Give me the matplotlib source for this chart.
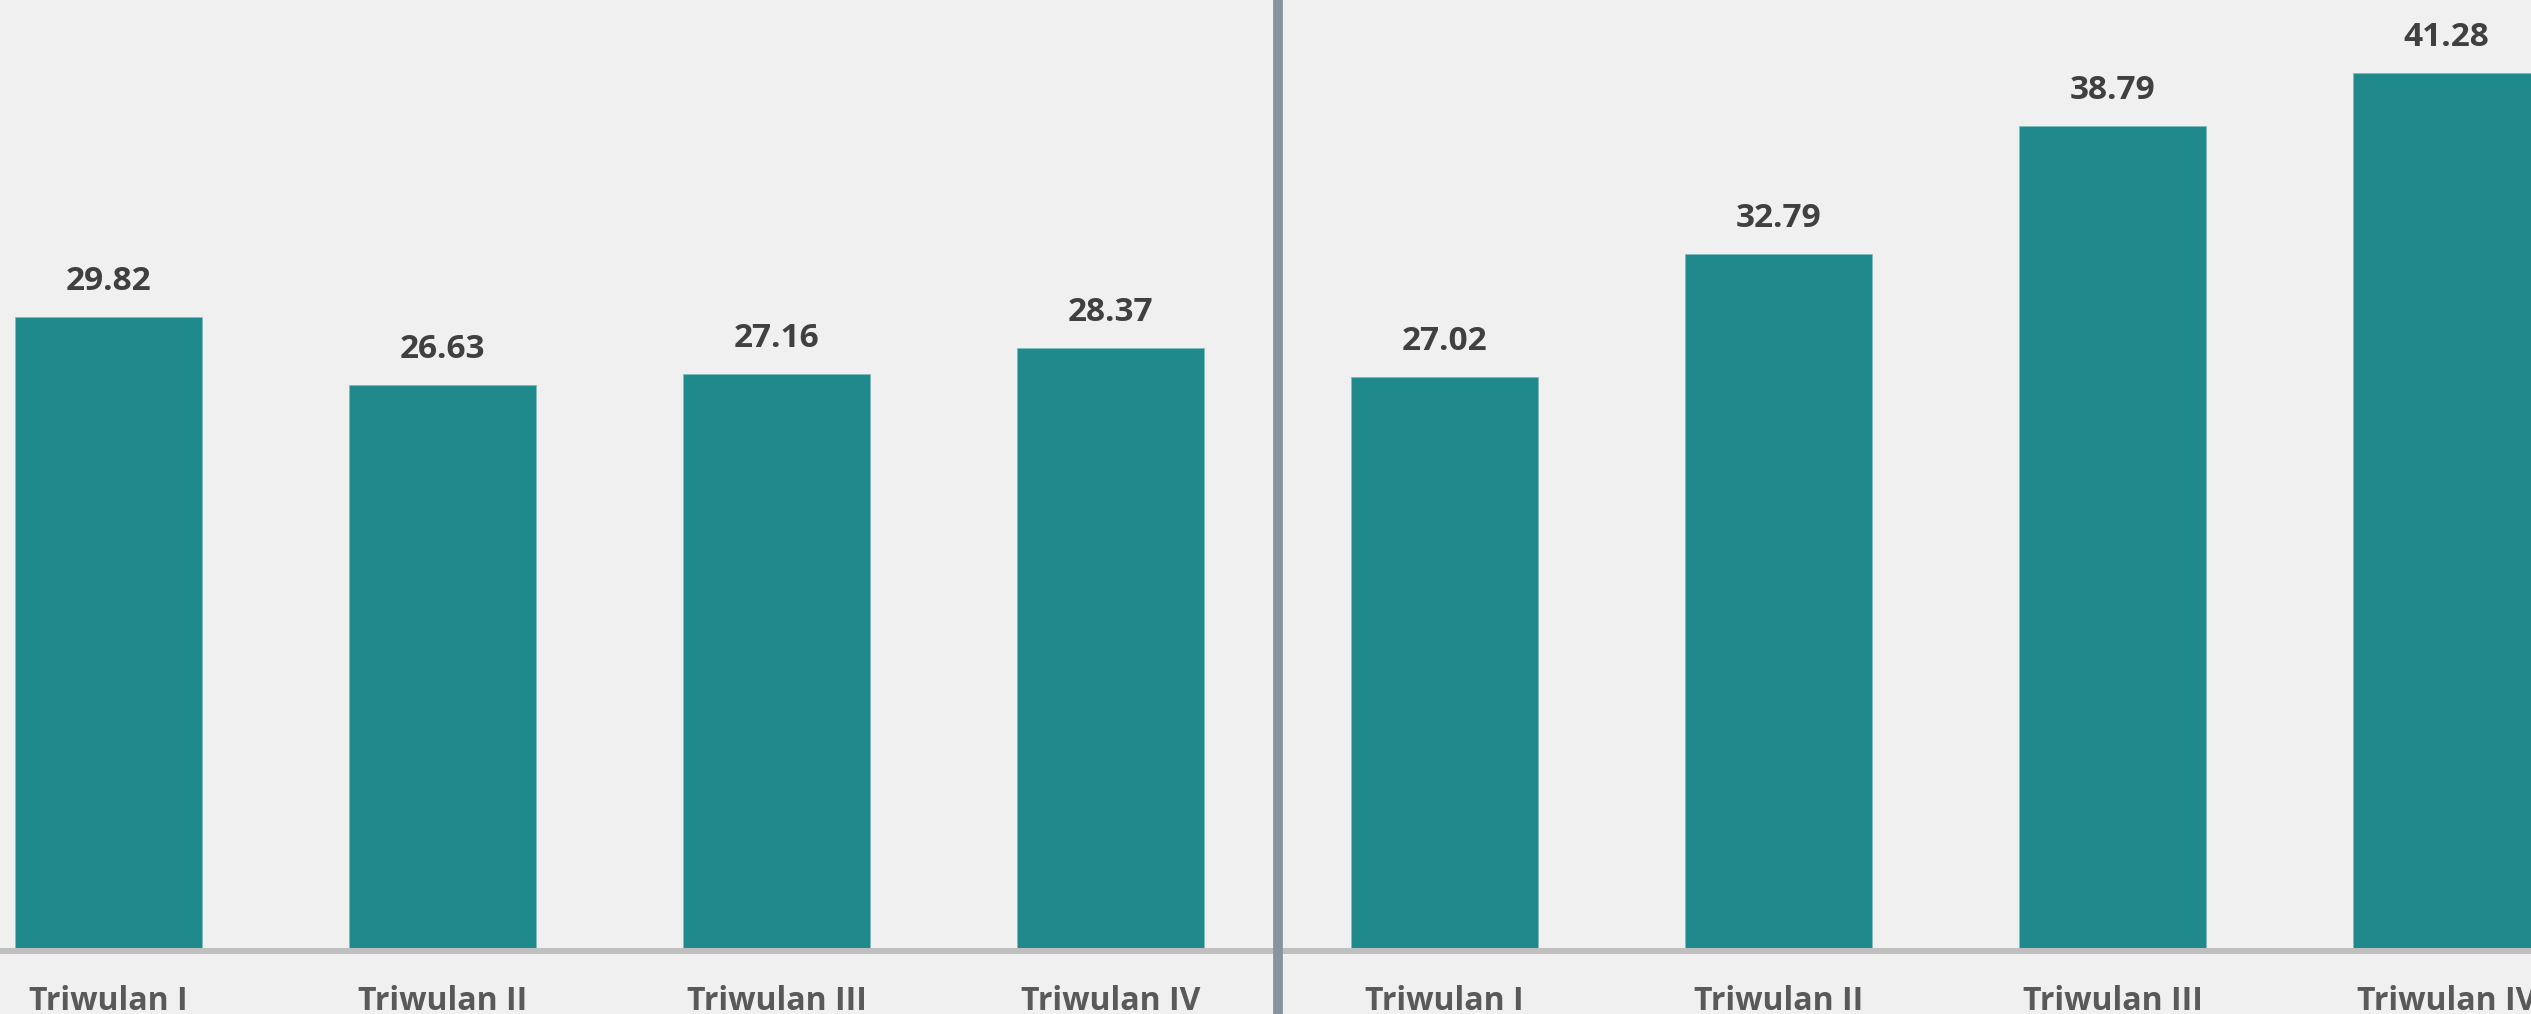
import matplotlib
matplotlib.use("Agg")
import matplotlib.pyplot as plt

categories = ["Triwulan I", "Triwulan II", "Triwulan III", "Triwulan IV",
              "Triwulan I", "Triwulan II", "Triwulan III", "Triwulan IV"]
values = [29.82, 26.63, 27.16, 28.37, 27.02, 32.79, 38.79, 41.28]

W, H, DPI = 2531, 1014, 100
fig = plt.figure(figsize=(W / DPI, H / DPI), dpi=DPI, facecolor="#F0F0F0")
ax = fig.add_axes([0, 63 / H, 1, 951 / H])
ax.set_facecolor("#F0F0F0")

x = list(range(len(values)))
ax.bar(x, values, width=0.56, color="#1F898B", edgecolor="#7FBDBE", linewidth=0.6, zorder=2)

ax.set_xlim(-0.325, 7.253)
ax.set_ylim(0, 44.73)

for s in ["top", "right", "left"]:
    ax.spines[s].set_visible(False)
ax.spines["bottom"].set_color("#BFBFBF")
ax.spines["bottom"].set_linewidth(4.3)
ax.spines["bottom"].set_zorder(3)
ax.set_yticks([])
ax.set_xticks([])

font = "Open Sans"
for xi, v in zip(x, values):
    ax.text(xi, v + 1.27, f"{v:.2f}", ha="center", va="baseline",
            fontsize=24, fontweight="bold", color="#404040", family=font)

trans = ax.get_xaxis_transform()
for xi, c in zip(x, categories):
    ax.text(xi, -59 / 951, c, ha="center", va="baseline", transform=trans,
            fontsize=23, fontweight="bold", color="#595959", family=font,
            clip_on=False)

ax.axvline(3.5, ymin=-0.08, ymax=1.0, color="#85959B", linewidth=7, clip_on=False, zorder=5)

fig.savefig("out.png", dpi=DPI, facecolor=fig.get_facecolor())
